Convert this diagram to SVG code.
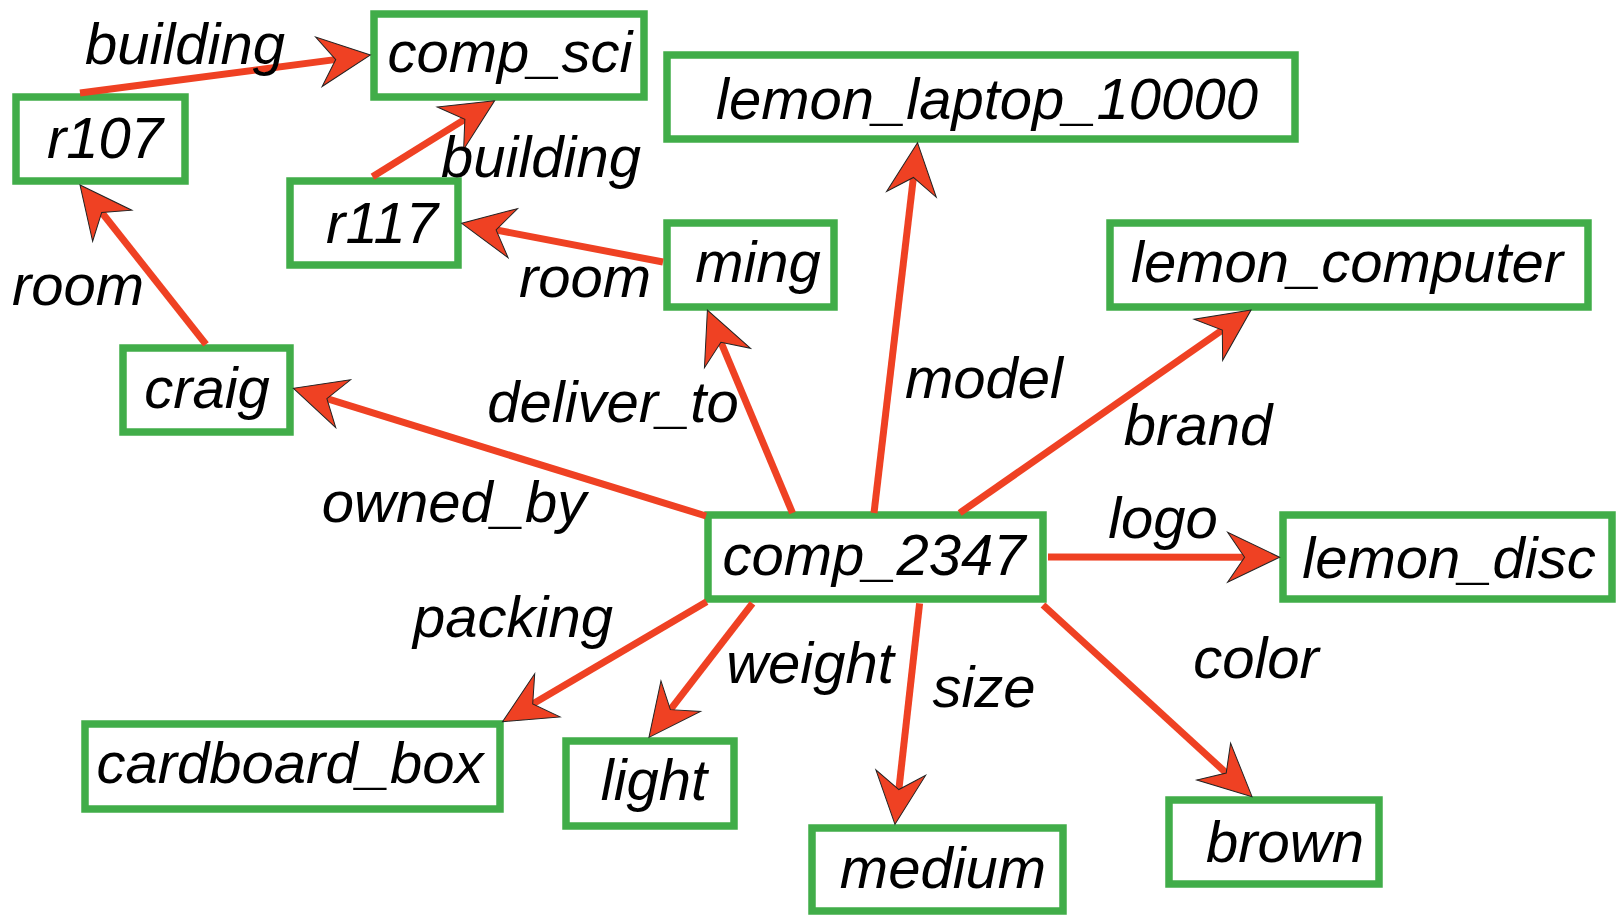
<svg xmlns="http://www.w3.org/2000/svg" width="1618" height="915" viewBox="0 0 1618 915">
<defs>
<style>
.node rect{fill:#ffffff;stroke:#41ad49;stroke-width:7.5}
.node text{font-family:"Liberation Sans",Arial,sans-serif;font-style:italic;font-size:58px;fill:#000;text-anchor:middle}
.edge{fill:none;stroke:#ef4123;stroke-width:7}
.lbl{font-family:"Liberation Sans",Arial,sans-serif;font-style:italic;font-size:58px;fill:#000;text-anchor:middle}
</style>
<marker id="arr" markerUnits="userSpaceOnUse" markerWidth="80" markerHeight="80" refX="0" refY="0" orient="auto" overflow="visible">
<path d="M30,0 L-22,-25 L-5,0 L-22,25 Z" fill="#ef4123" stroke="#222" stroke-width="1" stroke-linejoin="miter"/>
</marker>
</defs>
<rect x="0" y="0" width="1618" height="915" fill="#ffffff"/>

<g id="nodes">
<g id="comp_sci" class="node"><rect x="374" y="14" width="270" height="83"/><text x="510" y="72">comp_sci</text></g>
<g id="r107" class="node"><rect x="16" y="97" width="169" height="84"/><text x="105" y="158">r107</text></g>
<g id="lemon_laptop_10000" class="node"><rect x="667" y="55" width="628" height="84"/><text x="987" y="119">lemon_laptop_10000</text></g>
<g id="r117" class="node"><rect x="290" y="181" width="168" height="84"/><text x="382" y="243">r117</text></g>
<g id="ming" class="node"><rect x="667" y="223" width="167" height="84"/><text x="758" y="282">ming</text></g>
<g id="lemon_computer" class="node"><rect x="1110" y="223" width="478" height="84"/><text x="1347" y="282">lemon_computer</text></g>
<g id="craig" class="node"><rect x="123" y="348" width="167" height="84"/><text x="207" y="408">craig</text></g>
<g id="comp_2347" class="node"><rect x="708" y="515" width="335" height="84"/><text x="874" y="575">comp_2347</text></g>
<g id="lemon_disc" class="node"><rect x="1283" y="515" width="329" height="84"/><text x="1449" y="578">lemon_disc</text></g>
<g id="cardboard_box" class="node"><rect x="85" y="724" width="415" height="85"/><text x="290" y="783">cardboard_box</text></g>
<g id="light" class="node"><rect x="566" y="741" width="168" height="85"/><text x="654" y="800">light</text></g>
<g id="medium" class="node"><rect x="812" y="828" width="251" height="83"/><text x="943" y="888">medium</text></g>
<g id="brown" class="node"><rect x="1169" y="800" width="210" height="84"/><text x="1285" y="862">brown</text></g>
</g>

<g id="connectors">
<path class="edge" marker-end="url(#arr)" d="M80,93 L340.7,58.9"/>
<path class="edge" marker-end="url(#arr)" d="M372.5,176.7 L469.1,116.6"/>
<path class="edge" marker-end="url(#arr)" d="M206,344.3 L98.6,208.5"/>
<path class="edge" marker-end="url(#arr)" d="M663,262 L491.2,229"/>
<path class="edge" marker-end="url(#arr)" d="M706,516 L322.1,397.2"/>
<path class="edge" marker-end="url(#arr)" d="M792.5,513 L719,337.7"/>
<path class="edge" marker-end="url(#arr)" d="M874,513 L914,172.5"/>
<path class="edge" marker-end="url(#arr)" d="M959.7,513 L1226.4,327.2"/>
<path class="edge" marker-end="url(#arr)" d="M1048,557 L1249.6,557.2"/>
<path class="edge" marker-end="url(#arr)" d="M1043,605 L1229.9,776.4"/>
<path class="edge" marker-end="url(#arr)" d="M919.6,603.3 L898.3,794.5"/>
<path class="edge" marker-end="url(#arr)" d="M752.5,603.3 L667.3,713.6"/>
<path class="edge" marker-end="url(#arr)" d="M706.6,601.7 L528.4,706.5"/>
<text class="lbl" x="185" y="64">building</text>
<text class="lbl" x="541" y="177">building</text>
<text class="lbl" x="78" y="305">room</text>
<text class="lbl" x="585" y="297">room</text>
<text class="lbl" x="613" y="422">deliver_to</text>
<text class="lbl" x="984" y="398">model</text>
<text class="lbl" x="1198" y="445">brand</text>
<text class="lbl" x="454" y="522">owned_by</text>
<text class="lbl" x="1163" y="538">logo</text>
<text class="lbl" x="513" y="637">packing</text>
<text class="lbl" x="810" y="683">weight</text>
<text class="lbl" x="984" y="707">size</text>
<text class="lbl" x="1256" y="678">color</text>
</g>
</svg>
